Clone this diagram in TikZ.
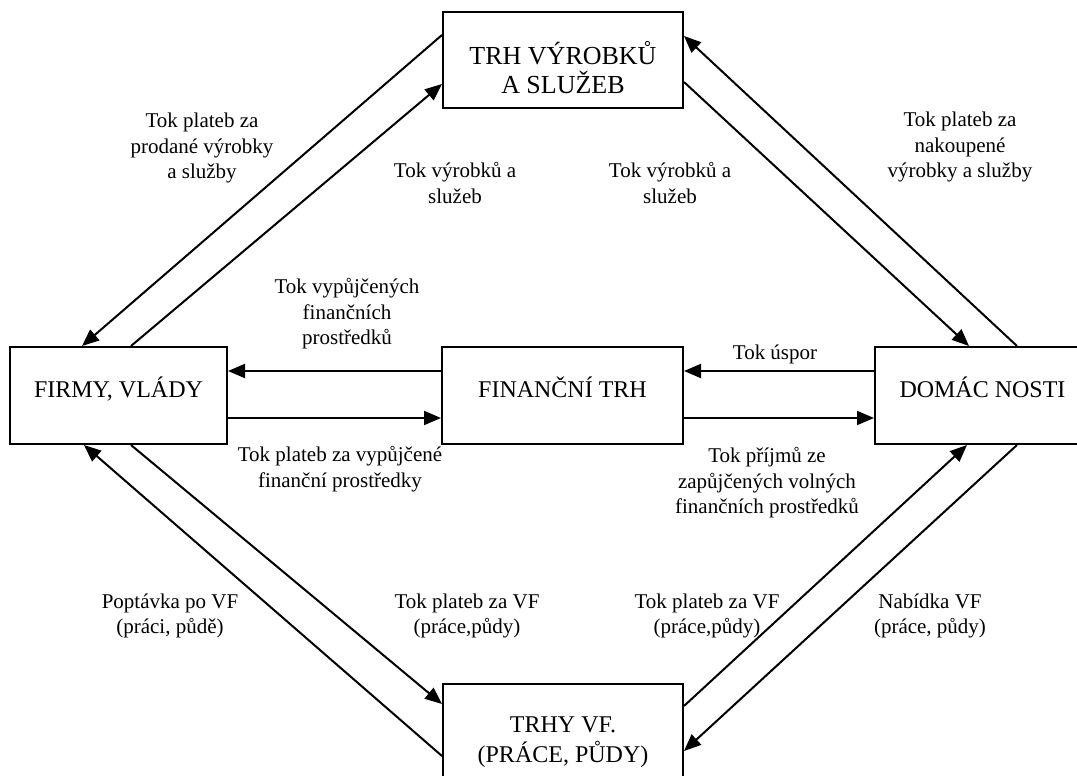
\documentclass[tikz,border=0pt]{standalone}
\usepackage{fontspec}
\setmainfont{Liberation Serif}
\usetikzlibrary{arrows.meta,calc}
\begin{document}
\begin{tikzpicture}[x=1pt,y=-1pt,
  box/.style={draw,line width=2pt,rectangle,inner sep=0pt},
  boxtext/.style={font=\fontsize{24}{30}\selectfont,align=center,inner sep=0pt},
  lbl/.style={font=\fontsize{21}{25.5}\selectfont,align=center,inner sep=0pt},
  flow/.style={line width=2pt,-{Triangle[length=17pt,width=14pt]}}]
\useasboundingbox (0,0) rectangle (1077,776);
\clip (0,0) rectangle (1077,776);
% boxes
\node[box,minimum width=240pt,minimum height=96pt] (trh) at (563,60) {};
\node[box,minimum width=217pt,minimum height=97pt] (firmy) at (118.5,395.5) {};
\node[box,minimum width=241pt,minimum height=97pt] (fin) at (562.5,395.5) {};
\node[box,minimum width=215pt,minimum height=97pt] (dom) at (982.5,395.5) {};
\node[box,minimum width=240pt,minimum height=96pt] (vf) at (563,732) {};
% box texts
\node[boxtext,font=\fontsize{26}{29}\selectfont] (trht) at (563,68) {TRH VÝROBKŮ\\A SLUŽEB};
\node[boxtext,anchor=base] (firmyt) at (118.5,397) {FIRMY, VLÁDY};
\node[boxtext,anchor=base] (fint) at (562.5,397) {FINANČNÍ TRH};
\node[boxtext,anchor=base] (domt) at (982.5,397) {DOMÁC NOSTI};
\node[boxtext] (vft) at (563,742) {TRHY VF.\\(PRÁCE, PŮDY)};
% diagonal connectors
\draw[flow] ($(trh.north west)+(0,24)$) -- ($(firmy.north west)+(73,0)$);
\draw[flow] ($(firmy.north west)+(122,0)$) -- ($(trh.north west)+(0,73)$);
\draw[flow] ($(dom.north west)+(143,0)$) -- ($(trh.north east)+(0,25)$);
\draw[flow] ($(trh.north east)+(0,71)$) -- ($(dom.north west)+(95,0)$);
\draw[flow] ($(vf.north west)+(0,73)$) -- ($(firmy.south west)+(75,0)$);
\draw[flow] ($(firmy.south west)+(122,0)$) -- ($(vf.north west)+(0,21)$);
\draw[flow] ($(vf.north east)+(0,23)$) -- ($(dom.south west)+(93,0)$);
\draw[flow] ($(dom.south west)+(143,0)$) -- ($(vf.north east)+(0,68)$);
% horizontal connectors
\draw[flow] ($(fin.north west)+(0,25)$) -- ($(firmy.north east)+(0,25)$);
\draw[flow] ($(firmy.north east)+(0,72)$) -- ($(fin.north west)+(0,72)$);
\draw[flow] ($(dom.north west)+(0,25)$) -- ($(fin.north east)+(0,25)$);
\draw[flow] ($(fin.north east)+(0,72)$) -- ($(dom.north west)+(0,72)$);
% labels
\node[lbl] (l1) at (202,148) {Tok plateb za\\prodané výrobky\\a služby};
\node[lbl] (l2) at (455,183) {Tok výrobků a\\služeb};
\node[lbl] (l3) at (670,183) {Tok výrobků a\\služeb};
\node[lbl] (l4) at (960,147) {Tok plateb za\\nakoupené\\výrobky a služby};
\node[lbl] (l5) at (347,314) {Tok vypůjčených\\finančních\\prostředků};
\node[lbl] (l6) at (775,354) {Tok úspor};
\node[lbl] (l7) at (340,469) {Tok plateb za vypůjčené\\finanční prostředky};
\node[lbl] (l8) at (767,483) {Tok příjmů ze\\zapůjčených volných\\finančních prostředků};
\node[lbl] (l9) at (170,616) {Poptávka po VF\\(práci, půdě)};
\node[lbl] (l10) at (467,616) {Tok plateb za VF\\(práce,půdy)};
\node[lbl] (l11) at (707,616) {Tok plateb za VF\\(práce,půdy)};
\node[lbl] (l12) at (930,616) {Nabídka VF\\(práce, půdy)};
\end{tikzpicture}
\end{document}
